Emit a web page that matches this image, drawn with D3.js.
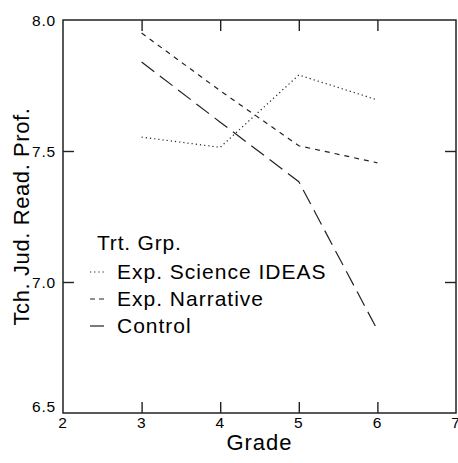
<!DOCTYPE html>
<html><head><meta charset="utf-8">
<script src="https://cdn.jsdelivr.net/npm/d3@7"></script>
<style>body{margin:0;background:#fff}svg{display:block}text{font-family:"Liberation Sans",Arial,sans-serif;fill:#000}</style>
</head><body><div id="c"></div>
<script>
const grades = [3, 4, 5, 6];
const scienceIdeas = [7.553, 7.514, 7.79, 7.695];
const narrative = [7.95, 7.73, 7.52, 7.455];
const control = [7.84, 7.61, 7.383, 6.817];
const seriesNames = ["Exp. Science IDEAS", "Exp. Narrative", "Control"];
const xTicks = [2, 3, 4, 5, 6, 7];
const yTicks = [6.5, 7.0, 7.5, 8.0];
const legendTitle = "Trt. Grp.";
const xTitle = "Grade";
const yTitle = "Tch. Jud. Read. Prof.";

const W = 458, H = 463;
const m = {l: 63, r: 2, t: 20, b: 50};
const svg = d3.select("#c").append("svg").attr("width", W).attr("height", H);
const x = d3.scaleLinear().domain([2, 7]).range([m.l, W - m.r]);
const y = d3.scaleLinear().domain([6.5, 8.0]).range([H - m.b, m.t]);
const tl = 11;

const inner = xTicks.slice(1, -1), innerY = yTicks.slice(1, -1);
svg.append("g").attr("transform", `translate(0,${y(6.5)})`)
  .call(d3.axisBottom(x).tickValues(inner).tickSize(-tl).tickFormat(""))
  .call(g => g.select(".domain").remove());
svg.append("g").attr("transform", `translate(0,${y(8.0)})`)
  .call(d3.axisTop(x).tickValues(inner).tickSize(-tl).tickFormat(""))
  .call(g => g.select(".domain").remove());
svg.append("g").attr("transform", `translate(${x(2)},0)`)
  .call(d3.axisLeft(y).tickValues(innerY).tickSize(-tl).tickFormat(""))
  .call(g => g.select(".domain").remove());
svg.append("g").attr("transform", `translate(${x(7)},0)`)
  .call(d3.axisRight(y).tickValues(innerY).tickSize(-tl).tickFormat(""))
  .call(g => g.select(".domain").remove());
svg.selectAll(".tick line").attr("stroke", "#222").attr("stroke-width", 1.4);

svg.append("rect").attr("x", x(2)).attr("y", y(8.0))
  .attr("width", x(7) - x(2)).attr("height", y(6.5) - y(8.0))
  .attr("fill", "none").attr("stroke", "#222").attr("stroke-width", 1.5);

svg.append("g").selectAll("text").data(xTicks).join("text")
  .attr("x", d => x(d)).attr("y", y(6.5) + 15)
  .attr("text-anchor", "middle").attr("font-size", 15.5).attr("letter-spacing", 0.8)
  .attr("fill", "#222").text(d => d);
svg.append("g").selectAll("text").data(yTicks).join("text")
  .attr("x", x(2) - 7).attr("y", (d, i) => y(d) + (i === 0 ? -1 : 5.5))
  .attr("text-anchor", "end").attr("font-size", 15.5).attr("letter-spacing", 0.8)
  .attr("fill", "#222").text(d => d.toFixed(1));

svg.append("text").attr("x", (x(2) + x(7)) / 2).attr("y", H - 13)
  .attr("text-anchor", "middle").attr("font-size", 22).attr("letter-spacing", 1)
  .text(xTitle);
svg.append("text").attr("transform", `translate(29,${(y(6.5) + y(8.0)) / 2}) rotate(-90)`)
  .attr("text-anchor", "middle").attr("font-size", 22).attr("letter-spacing", 0.6)
  .text(yTitle);

const dashes = ["1.2,3", "5,5", "16,7"];
const data = [scienceIdeas, narrative, control];
const line = d3.line().x((d, i) => x(grades[i])).y(d => y(d));
svg.append("g").selectAll("path").data(data).join("path")
  .attr("d", line).attr("fill", "none").attr("stroke", "#222")
  .attr("stroke-width", 1.2).attr("stroke-dasharray", (d, i) => dashes[i]);

const lg = svg.append("g");
lg.append("text").attr("x", 97).attr("y", 250).attr("font-size", 21).attr("letter-spacing", 0.8).text(legendTitle);
const legDash = ["1.2,3", "5,4", null];
seriesNames.forEach((n, i) => {
  const by = 279 + i * 27;
  lg.append("line").attr("x1", 90).attr("x2", 104).attr("y1", by - 7).attr("y2", by - 7)
    .attr("stroke", "#222").attr("stroke-width", 1.2).attr("stroke-dasharray", legDash[i]);
  lg.append("text").attr("x", 117).attr("y", by).attr("font-size", 21).attr("letter-spacing", 1).text(n);
});
</script></body></html>
